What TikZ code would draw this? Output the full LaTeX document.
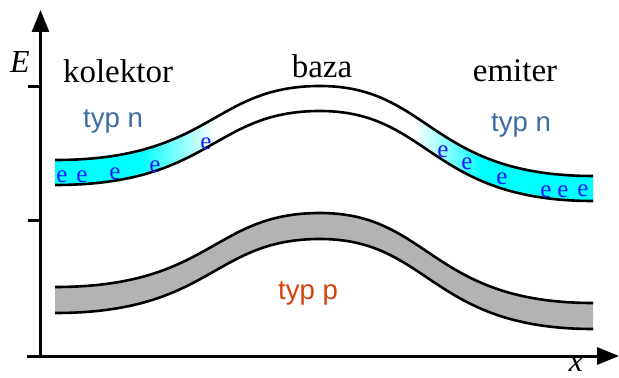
\documentclass[tikz,border=0pt]{standalone}
\usepackage{fontspec}
\setmainfont{Liberation Serif}
\setsansfont{Liberation Sans}
\usetikzlibrary{arrows.meta}
\definecolor{bandgray}{HTML}{B3B3B3}
\definecolor{bandcyan}{HTML}{00FFFF}
\definecolor{ntype}{HTML}{3C6CA3}
\definecolor{ptype}{HTML}{D4420E}
\definecolor{electroncol}{HTML}{1A1AFF}
\tikzset{
  axis/.style={line width=1.5pt, -{Triangle[length=11pt, width=8.5pt]}},
  tickmark/.style={line width=1.5pt},
  bandedge/.style={line width=1.3pt},
  region/.style={font=\fontsize{16.5}{18}\selectfont, anchor=base, inner sep=0pt},
  dopant/.style={font=\sffamily\fontsize{13.8}{16}\selectfont, inner sep=0pt},
  electron/.style={text=electroncol, font=\fontsize{12.5}{14}\selectfont, inner sep=0pt},
  axislabel/.style={font=\itshape\fontsize{16}{18}\selectfont, inner sep=0pt},
}
\newcommand{\bandtop}[1]{(55,160+#1) .. controls (212,160+#1) and (212,86+#1) .. (320,86+#1) .. controls (430,86+#1) and (430,176+#1) .. (593,176+#1)}
\newcommand{\bandback}[1]{(593,176+#1) .. controls (430,176+#1) and (430,86+#1) .. (320,86+#1) .. controls (212,86+#1) and (212,160+#1) .. (55,160+#1)}

\begin{document}
\begin{tikzpicture}[x=0.5pt, y=-0.5pt]
    \useasboundingbox (0,0) rectangle (619,378);
    % valence band
    \fill[bandgray] \bandtop{127} -- \bandback{153} -- cycle;
    % conduction band with electrons
    \begin{scope}
      \clip \bandtop{0} -- \bandback{25} -- cycle;
      \fill[bandcyan] (50,130) rectangle (140,215);
      \shade[left color=bandcyan, right color=white] (140,100) rectangle (215,215);
      \shade[left color=white, right color=bandcyan] (415,100) rectangle (482,215);
      \fill[bandcyan] (482,130) rectangle (600,215);
    \end{scope}
    \draw[bandedge] \bandtop{0};
    \draw[bandedge] \bandtop{25};
    \draw[bandedge] \bandtop{127};
    \draw[bandedge] \bandtop{153};

    \coordinate (origin) at (40.5,356);
    \coordinate (xstart) at (27,356);
    \coordinate (xtip) at (619,356);
    \coordinate (ytip) at (40.5,10);
    \coordinate (tickA) at (28,87);
    \coordinate (tickB) at (28,221);
    \draw[axis] (xstart) -- (xtip);
    \draw[axis] (origin) -- (ytip);
    \draw[tickmark] (tickA) -- (tickA -| origin);
    \draw[tickmark] (tickB) -- (tickB -| origin);
    \node[axislabel] (elabel) at (20,62) {E};
    \node[axislabel] (xlabel) at (576,364) {x};

    \node[region] (kolektor) at (118,83) {kolektor};
    \node[region] (baza) at (322,78) {baza};
    \node[region] (emiter) at (515,82) {emiter};
    \node[dopant, text=ntype] (typnl) at (113,121) {typ n};
    \node[dopant, text=ntype] (typnr) at (521,125) {typ n};
    \node[dopant, text=ptype] (typp) at (308,293) {typ p};

    \node[electron] (e1) at (62,177) {e};
    \node[electron] (e2) at (82,177) {e};
    \node[electron] (e3) at (115,174) {e};
    \node[electron] (e4) at (155,167) {e};
    \node[electron] (e5) at (206,144) {e};
    \node[electron] (e6) at (443,152) {e};
    \node[electron] (e7) at (467,164) {e};
    \node[electron] (e8) at (502,179) {e};
    \node[electron] (e9) at (546,192) {e};
    \node[electron] (e10) at (563,192) {e};
    \node[electron] (e11) at (583,191) {e};
  \end{tikzpicture}
\end{document}
